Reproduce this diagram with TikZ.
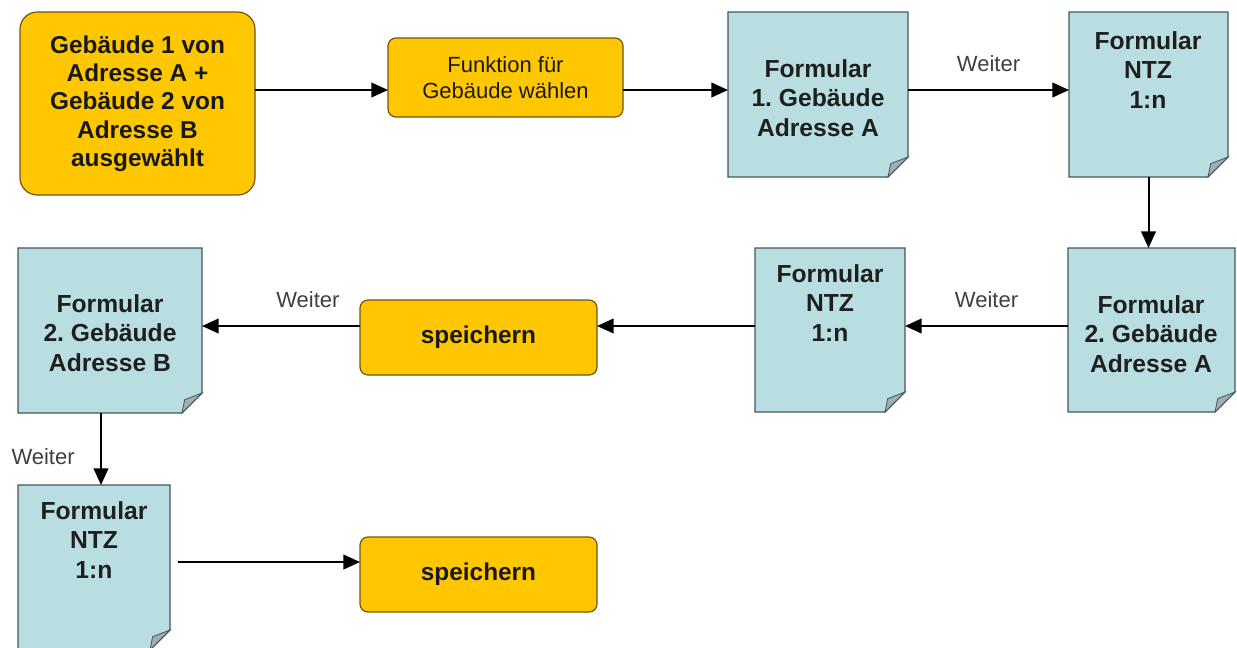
\documentclass[tikz,border=0pt]{standalone}
\usepackage{fontspec}
\setmainfont{Liberation Sans}
\usetikzlibrary{arrows.meta,positioning}

\definecolor{gold}{RGB}{255,199,0}
\definecolor{goldline}{RGB}{115,85,10}
\definecolor{docblue}{RGB}{184,222,226}
\definecolor{docline}{RGB}{70,85,88}
\definecolor{docfoldc}{RGB}{160,174,178}

\tikzset{
  aktion/.style={draw=goldline, fill=gold, line width=0.9pt, rounded corners=6pt, align=center, inner sep=0pt, outer sep=0pt, text=black!90},
  formular/.style={inner sep=0pt, outer sep=0pt},
  doctext/.style={align=center, font=\fontsize{18.5}{22}\selectfont\bfseries, text=black!88},
  weiter/.style={font=\fontsize{16.5}{19}\selectfont, text=black!75, inner sep=1pt},
  docbody/.style={fill=docblue, draw=docline, line width=0.9pt},
  docfold/.style={fill=docfoldc, draw=docline, line width=0.6pt},
}

\begin{document}
\frenchspacing
\begin{tikzpicture}[x=0.75pt, y=-0.75pt, >={Triangle[length=12.5pt,width=11pt]}]

 \useasboundingbox (0,0) rectangle (1237,647);

 %%%%%%%%%% Lignes des fleches %%%%%%%%%%
 \coordinate (r1) at (0,90);
 \coordinate (r2) at (0,326);
 \coordinate (r3) at (0,562);
 \coordinate (c1) at (101,0);

 %%%%%%%%%% Boites jaunes %%%%%%%%%%
 \node[aktion, rounded corners=13pt, minimum width=176.25pt, minimum height=137.25pt, font=\fontsize{18.3}{21.2}\selectfont\bfseries] (auswahl) at (137.5,103.5) {Gebäude 1 von\\Adresse A +\\Gebäude 2 von\\Adresse B\\ausgewählt};
 \node[aktion, minimum width=176.25pt, minimum height=59.25pt, font=\fontsize{16.5}{20}\selectfont] (funktion) at (505.5,77.5) {Funktion für\\Gebäude wählen};
 \node[aktion, minimum width=177.75pt, minimum height=56.25pt, font=\fontsize{18.3}{22}\selectfont\bfseries] (speichern1) at (478.5,337.5) {speichern};
 \node[aktion, minimum width=177.75pt, minimum height=56.25pt, font=\fontsize{18.3}{22}\selectfont\bfseries] (speichern2) at (478.5,574.5) {speichern};

 %%%%%%%%%% Formulaires %%%%%%%%%%
 \node[formular, minimum width=135pt, minimum height=123.75pt] (formA1) at (818,94.5) {};
 \node[formular, minimum width=119.25pt, minimum height=123.75pt] (ntzA) at (1148.5,94.5) {};
 \node[formular, minimum width=125.25pt, minimum height=123pt] (formA2) at (1151.5,330) {};
 \node[formular, minimum width=112.5pt, minimum height=123pt] (ntzB) at (830,330) {};
 \node[formular, minimum width=138pt, minimum height=123.75pt] (formB) at (110,330.5) {};
 \node[formular, minimum width=114pt, minimum height=123.75pt] (ntzC) at (94,567.5) {};

 \foreach \n in {formA1,ntzA,formA2,ntzB,formB,ntzC}{
   \filldraw[docbody] (\n.north west) -- (\n.north east) -- ([yshift=15pt]\n.south east) -- ([xshift=-15pt]\n.south east) -- (\n.south west) -- cycle;
   \filldraw[docfold] ([yshift=15pt]\n.south east) -- ([xshift=-13pt,yshift=10pt]\n.south east) -- ([xshift=-15pt]\n.south east) -- cycle;
 }

 % Textes
 \node[doctext] (formA1-t) at (818,98) {Formular\\1. Gebäude\\Adresse A};
 \node[doctext] (ntzA-t) at (1148,70) {Formular\\NTZ\\1:n};
 \node[doctext] (formA2-t) at (1151,334) {Formular\\2. Gebäude\\Adresse A};
 \node[doctext] (ntzB-t) at (830,303) {Formular\\NTZ\\1:n};
 \node[doctext] (formB-t) at (110,333) {Formular\\2. Gebäude\\Adresse B};
 \node[doctext] (ntzC-t) at (94,540) {Formular\\NTZ\\1:n};

 %%%%%%%%%%% Fleches %%%%%%%%%%%
 \draw[->, line width=1.5pt] (auswahl.east |- r1) -- (funktion.west |- r1);
 \draw[->, line width=1.5pt] (funktion.east |- r1) -- (formA1.west |- r1);
 \draw[->, line width=1.5pt] (formA1.east |- r1) -- node[weiter, above=12pt] (w1) {Weiter} (ntzA.west |- r1);
 \draw[->, line width=1.5pt] (ntzA.south) -- (ntzA.south |- formA2.north);
 \draw[->, line width=1.5pt] (formA2.west |- r2) -- node[weiter, above=12pt] (w2) {Weiter} (ntzB.east |- r2);
 \draw[->, line width=1.5pt] (ntzB.west |- r2) -- (speichern1.east |- r2);
 \draw[->, line width=1.5pt] (speichern1.west |- r2) -- node[weiter, above=12pt, pos=0.33] (w3) {Weiter} (formB.east |- r2);
 \draw[->, line width=1.5pt] (formB.south -| c1) -- node[weiter, left=18pt, pos=0.61] (w4) {Weiter} (ntzC.north -| c1);
 \draw[->, line width=1.5pt] ([xshift=6pt]ntzC.east |- r3) -- (speichern2.west |- r3);

\end{tikzpicture}
\end{document}
